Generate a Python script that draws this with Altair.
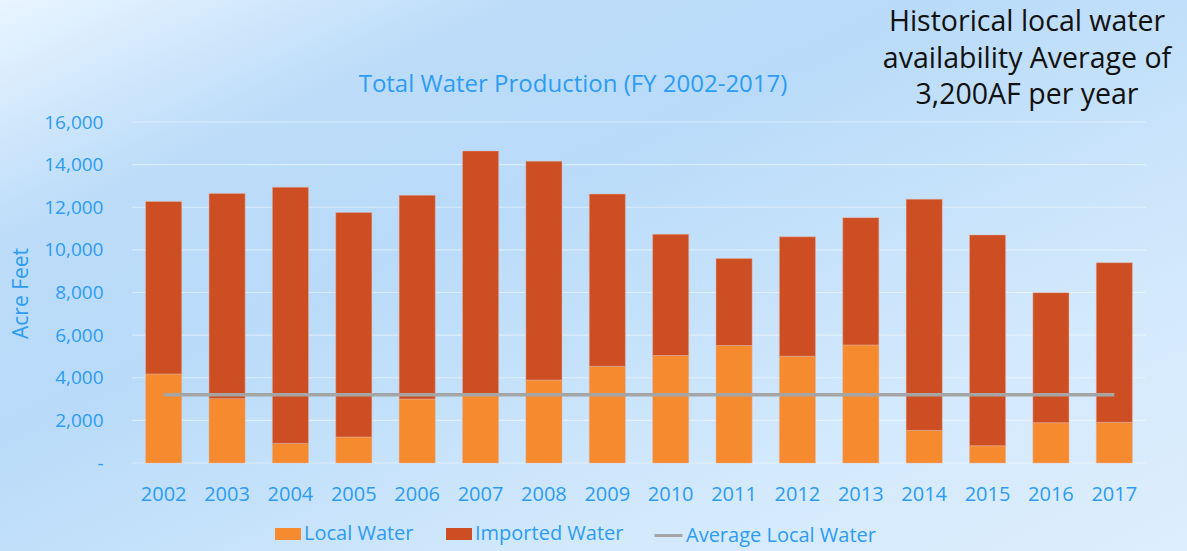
import altair as alt
import pandas as pd

# ---- data ----
years = [str(y) for y in range(2002, 2018)]
local_water = [4180, 3020, 920, 1220, 3000, 3240, 3890, 4540, 5040, 5510, 5010, 5540, 1530, 810, 1890, 1910]
imported_water = [8090, 9630, 12020, 10530, 9560, 11400, 10270, 8080, 5690, 4080, 5600, 5970, 10850, 9890, 6100, 7490]
average_local = [3200] * 16
bar_series = ["Local Water", "Imported Water"]
bar_colors = ["#f68a2e", "#cc4e22"]
line_series = ["Average Local Water"]
line_colors = ["#a5a5a5"]
y_ticks = [0, 2000, 4000, 6000, 8000, 10000, 12000, 14000, 16000]
chart_title = "Total Water Production (FY 2002-2017)"
note_lines = ["Historical local water", "availability Average of", "3,200AF per year"]

BLUE = "#2c9cf4"
FONT = "Open Sans"

rows = []
for i, y in enumerate(years):
    rows.append({"year": y, "series": bar_series[0], "value": local_water[i], "k": 0})
    rows.append({"year": y, "series": bar_series[1], "value": imported_water[i], "k": 1})
bars_df = pd.DataFrame(rows)
avg_df = pd.DataFrame({"year": years, "value": average_local, "series": line_series * 16})
grid_df = pd.DataFrame({"value": y_ticks})
note_df = pd.DataFrame({"t": note_lines, "row": [0, 1, 2]})

x_enc = alt.X(
    "year:O",
    sort=years,
    scale=alt.Scale(paddingInner=0.43, paddingOuter=0.215),
    axis=alt.Axis(title=None, labelAngle=0, labelFontSize=20, labelColor=BLUE, labelFont=FONT,
                  labelPadding=21, ticks=False, domain=False, grid=False, zindex=1),
)

y_scale = alt.Scale(domain=[0, 16000], nice=False)
y_axis = alt.Axis(
    title="Acre Feet", titleColor=BLUE, titleFontSize=21, titleFont=FONT, titleFontWeight="normal",
    titleAngle=-90, titleX=-105, titleY=171, titleAlign="center", titleBaseline="alphabetic",
    values=y_ticks, labelFontSize=19, labelColor=BLUE, labelFont=FONT, labelPadding=29,
    labelExpr="datum.value == 0 ? '-\u00a0\u00a0\u00a0' : format(datum.value, ',')",
    ticks=False, domain=False, grid=False, zindex=1,
)

background = alt.Chart(alt.Data(values=[{}])).mark_rect(
    color=alt.Gradient(
        gradient="linear", x1=0, y1=0, x2=1, y2=1,
        stops=[
            alt.GradientStop(color="#e9f5ff", offset=0),
            alt.GradientStop(color="#bcdcf9", offset=0.22),
            alt.GradientStop(color="#b9dbf9", offset=0.4),
            alt.GradientStop(color="#d3e9fc", offset=0.75),
            alt.GradientStop(color="#ddeefd", offset=1),
        ],
    )
).encode(
    x=alt.value(-132), x2=alt.value(1055), y=alt.value(-122), y2=alt.value(429)
)

grid = alt.Chart(grid_df).mark_rule(color="#ffffff", opacity=0.45, strokeWidth=1.2).encode(
    y=alt.Y("value:Q", scale=y_scale, axis=y_axis),
)

bars = alt.Chart(bars_df).mark_bar(stroke="#e6b4a4", strokeWidth=0.8, strokeOpacity=0.6).encode(
    x=x_enc,
    y=alt.Y("value:Q", stack="zero", scale=y_scale, axis=y_axis),
    fill=alt.Fill(
        "series:N",
        scale=alt.Scale(domain=bar_series, range=bar_colors),
        legend=alt.Legend(
            title=None, orient="none", direction="horizontal", legendX=143, legendY=399,
            labelFontSize=20, labelColor=BLUE, labelFont=FONT, labelOffset=3, columnPadding=32,
            labelLimit=300, symbolSize=676, symbolType="M-1,-0.46H1V0.46H-1Z", symbolStrokeWidth=0,
            padding=0,
        ),
    ),
    order=alt.Order("k:Q", sort="ascending"),
)

avg_line = alt.Chart(avg_df).mark_line(strokeWidth=3.5).encode(
    x=alt.X("year:O", sort=years),
    y=alt.Y("value:Q", scale=y_scale, axis=y_axis),
    stroke=alt.Stroke(
        "series:N",
        scale=alt.Scale(domain=line_series, range=line_colors),
        legend=alt.Legend(
            title=None, orient="none", direction="horizontal", legendX=521, legendY=398,
            labelFontSize=20, labelColor=BLUE, labelFont=FONT, labelOffset=2, labelLimit=300,
            symbolSize=784, symbolType="stroke", symbolStrokeWidth=3, padding=0,
        ),
    ),
)

title_text = alt.Chart(alt.Data(values=[{"t": chart_title}])).mark_text(
    font=FONT, fontSize=24, color=BLUE, align="center", baseline="middle",
).encode(
    text="t:N", x=alt.value(441), y=alt.value(-37)
)

note = alt.Chart(alt.Data(values=[{"t": "\n".join(note_lines)}])).mark_text(
    font=FONT, fontSize=28.5, color="#111111", align="center", baseline="middle",
    lineBreak="\n", lineHeight=36.5,
).encode(
    text="t:N", x=alt.value(895), y=alt.value(-100)
)

chart = alt.layer(background, grid, bars, avg_line, title_text, note).properties(
    width=1014,
    height=341,
    autosize=alt.AutoSizeParams(type="none"),
    padding={"left": 132, "top": 122, "right": 41, "bottom": 88},
).resolve_scale(fill="independent", stroke="independent").configure(background="#cfe6fb").configure_view(stroke=None)

chart.save("out.html", embed_options={"renderer": "svg", "actions": False})
